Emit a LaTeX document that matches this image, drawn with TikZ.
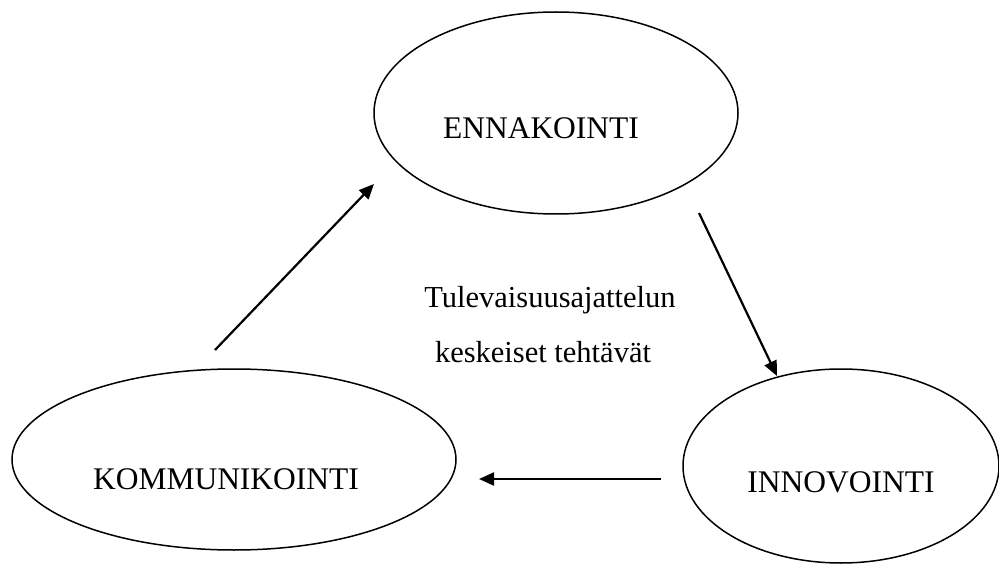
\documentclass[tikz,border=0pt]{standalone}
\usepackage{fontspec}
\setmainfont{Liberation Serif}
\usetikzlibrary{shapes.geometric,arrows.meta}
\begin{document}
\begin{tikzpicture}[x=1pt,y=-1pt,
  oval/.style={ellipse,draw,line width=1.5pt,inner sep=0pt},
  lbl/.style={anchor=base,inner sep=0pt,font=\fontsize{31.5}{38}\selectfont},
  arr/.style={line width=2.2pt,-{Triangle[length=15pt,width=13pt]}}]
\useasboundingbox (0,0) rectangle (999,564);
\node[oval,minimum width=364pt,minimum height=202pt] (enn) at (556,113) {};
\node[oval,minimum width=444pt,minimum height=181pt] (kom) at (234,459.5) {};
\node[oval,minimum width=316pt,minimum height=194pt] (inn) at (841,466) {};
\node[lbl] (tenn) at (541,139) {ENNAKOINTI};
\node[lbl] (tkom) at (226,489) {KOMMUNIKOINTI};
\node[lbl] (tinn) at (841,492) {INNOVOINTI};
\node[lbl,font=\fontsize{30.5}{38}\selectfont] (t1) at (550,308) {Tulevaisuusajattelun};
\node[lbl,font=\fontsize{30.5}{38}\selectfont] (t2) at (543,362) {keskeiset tehtävät};
\coordinate (a1s) at (215,350);
\coordinate (a1e) at (374,184);
\coordinate (a2s) at (699,213);
\coordinate (a2e) at (777,376);
\coordinate (a3s) at (661,479);
\coordinate (a3e) at (479,479);
\draw[arr] (a1s) -- (a1e);
\draw[arr] (a2s) -- (a2e);
\draw[arr] (a3s) -- (a3e);
\end{tikzpicture}
\end{document}
